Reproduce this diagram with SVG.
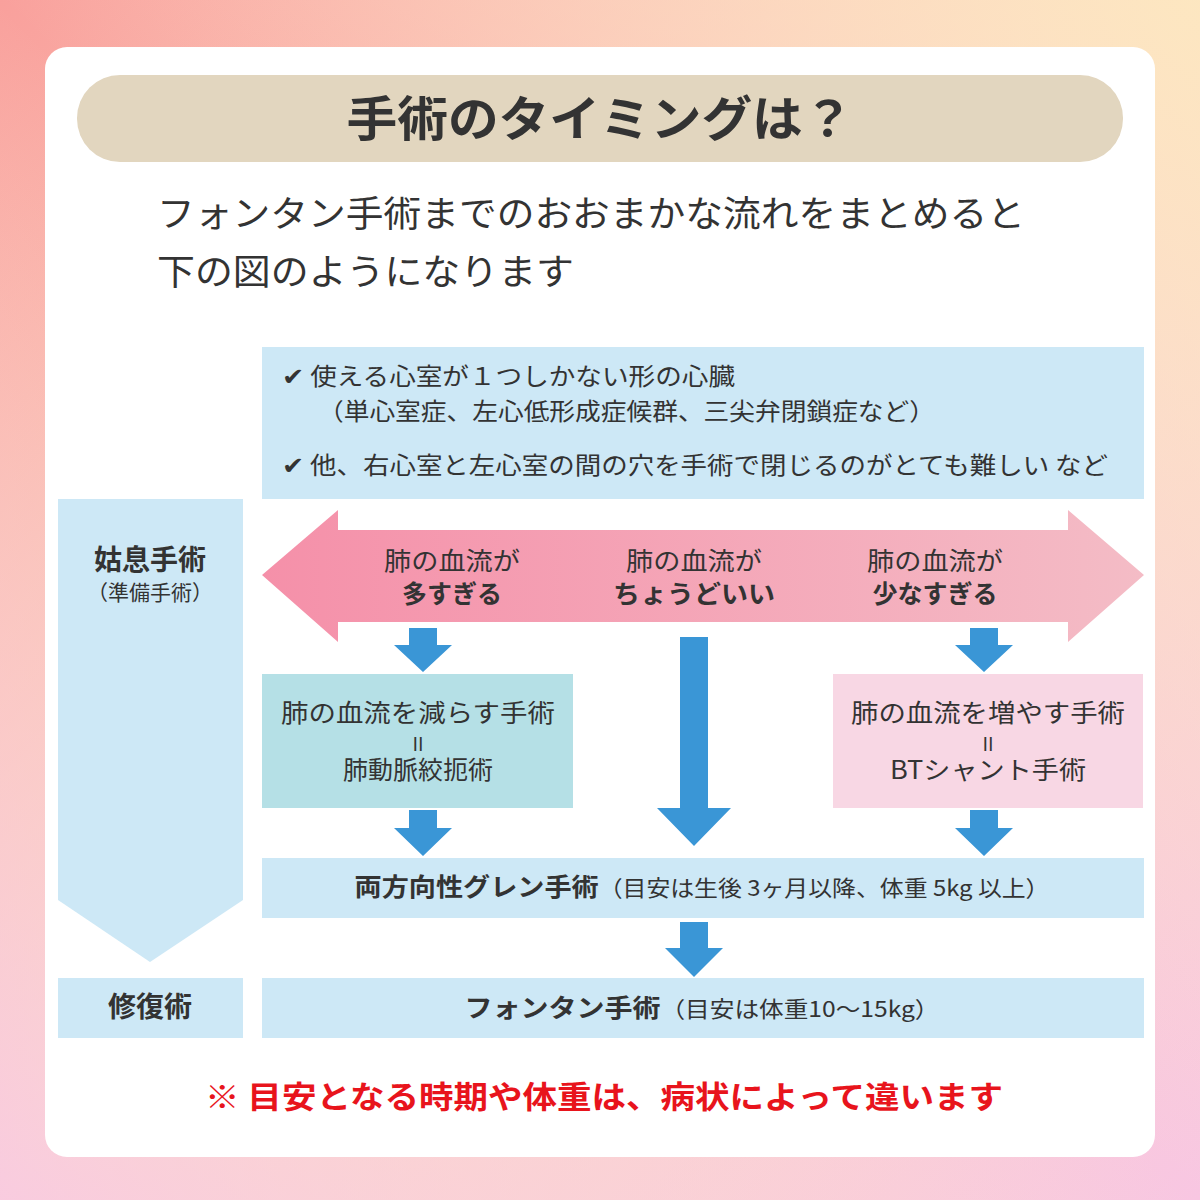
<svg xmlns="http://www.w3.org/2000/svg" width="1200" height="1200" viewBox="0 0 1200 1200">
<defs>
<linearGradient id="bg" x1="0" y1="0" x2="1" y2="1">
<stop offset="0" stop-color="#f9a09c"/><stop offset="0.5" stop-color="#fcd9c4"/><stop offset="1" stop-color="#f8c6e2"/>
</linearGradient>
<linearGradient id="bg2" x1="1" y1="0" x2="0" y2="1">
<stop offset="0" stop-color="#fde8c0" stop-opacity="0.9"/><stop offset="0.5" stop-color="#fde0d0" stop-opacity="0"/><stop offset="1" stop-color="#f8c8e6" stop-opacity="0.8"/>
</linearGradient>
<linearGradient id="pk" x1="0" y1="0" x2="1" y2="0">
<stop offset="0" stop-color="#f590a9"/><stop offset="1" stop-color="#f4bcc6"/>
</linearGradient>
<style>
text{font-family:"Noto Sans CJK JP","Noto Sans",sans-serif;fill:#333}
.b{font-weight:bold}
.c{text-anchor:middle}
.blue{fill:#cde8f6}
.arr{fill:#3a96d6}
.eq{stroke:#444;stroke-width:1.6}
</style>
</defs>
<rect width="1200" height="1200" fill="url(#bg)"/>
<rect width="1200" height="1200" fill="url(#bg2)"/>
<rect x="45" y="47" width="1110" height="1110" rx="22" fill="#fff"/>
<g id="title"><rect x="77" y="75" width="1046" height="87" rx="43" fill="#e2d6bf"/>
<text x="600" y="136" class="c b" font-size="48" textLength="507" lengthAdjust="spacingAndGlyphs">手術のタイミングは？</text></g>
<g id="intro"><text x="157" y="227" font-size="36" textLength="868" lengthAdjust="spacingAndGlyphs">フォンタン手術までのおおまかな流れをまとめると</text>
<text x="157" y="285" font-size="36" textLength="417" lengthAdjust="spacingAndGlyphs">下の図のようになります</text></g>
<g id="conditions"><rect x="262" y="347" width="882" height="152" class="blue"/>
<text x="282" y="385" font-size="24" textLength="453" lengthAdjust="spacingAndGlyphs">✔ 使える心室が１つしかない形の心臓</text>
<text x="318" y="420" font-size="24" textLength="617" lengthAdjust="spacingAndGlyphs">（単心室症、左心低形成症候群、三尖弁閉鎖症など）</text>
<text x="282" y="474" font-size="24" textLength="826" lengthAdjust="spacingAndGlyphs">✔ 他、右心室と左心室の間の穴を手術で閉じるのがとても難しい など</text></g>
<g id="palliative"><polygon points="58,499 243,499 243,900 150,962 58,900" class="blue"/>
<text x="150" y="570" class="c b" font-size="28">姑息手術</text>
<text x="150" y="600" class="c" font-size="21">（準備手術）</text></g>
<g id="flow"><polygon points="262,575 338,510 338,530 1068,530 1068,510 1144,575 1068,642 1068,622 338,622 338,642" fill="url(#pk)"/>
<text x="452" y="570" class="c" font-size="25" textLength="136" lengthAdjust="spacingAndGlyphs">肺の血流が</text><text x="452" y="603" class="c b" font-size="25">多すぎる</text>
<text x="694" y="570" class="c" font-size="25" textLength="136" lengthAdjust="spacingAndGlyphs">肺の血流が</text><text x="694" y="603" class="c b" font-size="25" textLength="162" lengthAdjust="spacingAndGlyphs">ちょうどいい</text>
<text x="935" y="570" class="c" font-size="25" textLength="136" lengthAdjust="spacingAndGlyphs">肺の血流が</text><text x="935" y="603" class="c b" font-size="25">少なすぎる</text></g>
<g id="connectors">
<polygon class="arr" points="409,628 437,628 437,645 452,645 423,672 394,645 409,645"/>
<polygon class="arr" points="970,628 998,628 998,645 1013,645 984,672 955,645 970,645"/>
<polygon class="arr" points="680,637 708,637 708,808 731,808 694,846 657,808 680,808"/>
<polygon class="arr" points="409,810 437,810 437,828 452,828 423,856 394,828 409,828"/>
<polygon class="arr" points="970,810 998,810 998,828 1013,828 984,856 955,828 970,828"/>
<polygon class="arr" points="680,922 708,922 708,948 723,948 694,977 665,948 680,948"/>
</g>
<g id="reduce"><rect x="262" y="674" width="311" height="134" fill="#b5e0e6"/>
<text x="418" y="722" class="c" font-size="25" textLength="274" lengthAdjust="spacingAndGlyphs">肺の血流を減らす手術</text>
<text x="418" y="751" class="c" font-size="19">II</text>
<text x="418" y="779" class="c" font-size="25">肺動脈絞扼術</text></g>
<g id="increase"><rect x="833" y="674" width="310" height="134" fill="#f8d7e4"/>
<text x="988" y="722" class="c" font-size="25" textLength="274" lengthAdjust="spacingAndGlyphs">肺の血流を増やす手術</text>
<text x="988" y="751" class="c" font-size="19">II</text>
<text x="988" y="779" class="c" font-size="25" textLength="196" lengthAdjust="spacingAndGlyphs">BTシャント手術</text></g>
<g id="glenn"><rect x="262" y="858" width="882" height="60" class="blue"/>
<text x="702" y="896" class="c" font-size="22" textLength="695" lengthAdjust="spacingAndGlyphs"><tspan class="b" font-size="25">両方向性グレン手術</tspan>（目安は生後 3ヶ月以降、体重 5kg 以上）</text></g>
<g id="repair"><rect x="58" y="978" width="185" height="60" class="blue"/>
<text x="150" y="1017" class="c b" font-size="28">修復術</text></g>
<g id="fontan"><rect x="262" y="978" width="882" height="60" class="blue"/>
<text x="702" y="1017" class="c" font-size="22" textLength="475" lengthAdjust="spacingAndGlyphs"><tspan class="b" font-size="25">フォンタン手術</tspan>（目安は体重10～15kg）</text></g>
<text x="604" y="1108" class="c b" font-size="31" textLength="798" lengthAdjust="spacingAndGlyphs" style="fill:#e8141c">※ 目安となる時期や体重は、病状によって違います</text>
</svg>
